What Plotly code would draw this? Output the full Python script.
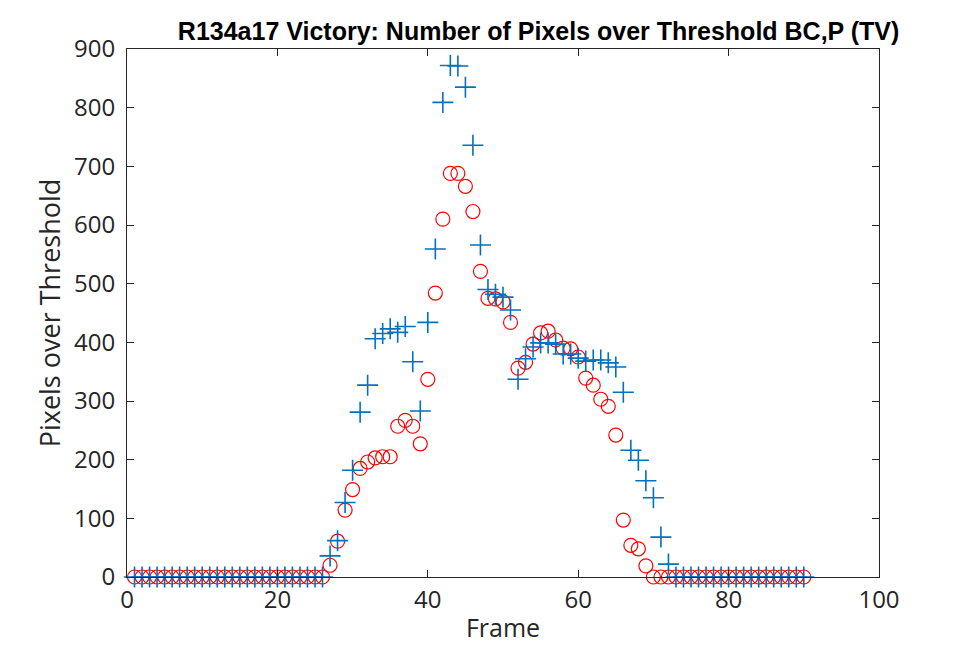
import plotly.graph_objects as go

frames = list(range(1, 91))

# Blue crosses (series 1)
cross_vals = [0]*26 + [
    36, 62, 127, 182, 281, 327, 406, 415, 423, 417,
    427, 367, 283, 434, 559, 809, 872, 871, 835, 736,
    566, 490, 482, 477, 455, 337, 372, 392, 399, 399,
    397, 380, 380, 373, 368, 370, 370, 365, 358, 315,
    216, 199, 164, 135, 68, 22
] + [0]*18

# Red circles (series 2)
circle_vals = [0]*26 + [
    20, 61, 114, 149, 185, 196, 203, 205, 205, 257,
    267, 257, 227, 337, 484, 610, 688, 688, 666, 623,
    521, 475, 474, 469, 434, 356, 366, 397, 416, 419,
    404, 390, 389, 375, 339, 327, 303, 291, 242, 97,
    54, 48, 19, 0, 0, 0
] + [0]*18

x_ticks = [0, 20, 40, 60, 80, 100]
y_ticks = [0, 100, 200, 300, 400, 500, 600, 700, 800, 900]

fig = go.Figure()
fig.add_trace(go.Scatter(
    x=frames, y=circle_vals, mode="markers",
    marker=dict(symbol="circle-open", size=14, color="#FF0000",
                line=dict(width=1.2, color="#FF0000")),
    showlegend=False, cliponaxis=False,
))
fig.add_trace(go.Scatter(
    x=frames, y=cross_vals, mode="markers",
    marker=dict(symbol="cross-thin-open", size=15, color="#0072BD",
                line=dict(width=1.6, color="#0072BD")),
    showlegend=False, cliponaxis=False,
))

axis_common = dict(
    showgrid=False, zeroline=False, showline=True, linecolor="#262626",
    linewidth=1, mirror="ticks", ticks="inside", ticklen=7,
    tickcolor="#262626", tickfont=dict(family="Open Sans", size=24, color="#262626"),
)

fig.update_layout(
    width=974, height=648,
    margin=dict(l=127, r=95, t=49, b=71),
    paper_bgcolor="white", plot_bgcolor="white",
    font=dict(family="Open Sans", color="#262626"),
    title=dict(text="<b>R134a17 Victory: Number of Pixels over Threshold BC,P (TV)</b>",
               x=0.553, xanchor="center", y=0.952, yanchor="middle",
               font=dict(family="Liberation Sans", size=25, color="#000000")),
    xaxis=dict(range=[0, 100], tickvals=x_ticks, ticklabelstandoff=1,
               title=dict(text="Frame", font=dict(family="Open Sans", size=25), standoff=5), **axis_common),
    yaxis=dict(range=[0, 900], tickvals=y_ticks, ticklabelstandoff=6,
               title=dict(text="Pixels over Threshold", font=dict(family="Open Sans", size=27), standoff=5), **axis_common),
)

fig.write_html("out.html")
